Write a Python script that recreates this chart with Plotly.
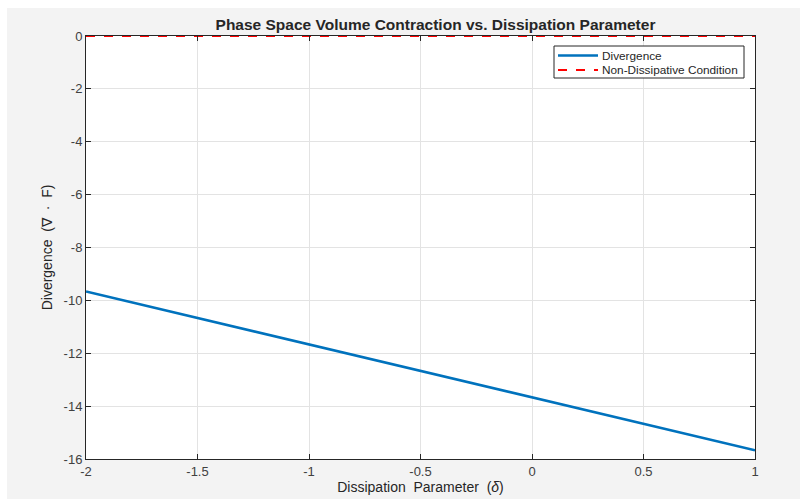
import numpy as np
import plotly.graph_objects as go

delta = [-2.0, -1.5, -1.0, -0.5, 0.0, 0.5, 1.0]
divergence = [-9.667, -10.667, -11.667, -12.667, -13.667, -14.667, -15.667]
zero_line = [0, 0, 0, 0, 0, 0, 0]
x_ticks = [-2, -1.5, -1, -0.5, 0, 0.5, 1]
x_tick_text = ["-2", "-1.5", "-1", "-0.5", "0", "0.5", "1"]
y_ticks = [0, -2, -4, -6, -8, -10, -12, -14, -16]
y_tick_text = ["0", "-2", "-4", "-6", "-8", "-10", "-12", "-14", "-16"]
series_names = ["Divergence", "Non-Dissipative Condition"]
series_colors = ["#0072BD", "#FF0000"]
series_dash = ["solid", "dash"]
series_widths = [2.5, 2]

font = "Liberation Sans, Arial, sans-serif"

# plot-area geometry in pixels (for converting legend placement to paper coords)
W, H = 800, 499
ML, MR, MT, MB = 86, 45, 36, 40
PW, PH = W - ML - MR, H - MT - MB


def px(xp):
    return (xp - ML) / PW


def py(yp):
    return 1 - (yp - MT) / PH


fig = go.Figure()
for name, yv, c, d, w in zip(series_names, [divergence, zero_line], series_colors, series_dash, series_widths):
    fig.add_trace(go.Scatter(x=delta, y=yv, mode="lines", name=name,
                             line=dict(color=c, width=w, dash=d), showlegend=False))

axis_common = dict(showline=True, linecolor="#262626", linewidth=1, mirror="ticks",
                   ticks="inside", ticklen=5, tickcolor="#262626",
                   showgrid=True, gridcolor="#e3e3e3", gridwidth=1, zeroline=False,
                   automargin=False,
                   tickfont=dict(family=font, size=13, color="#404040"))

fig.update_layout(
    width=W, height=H,
    paper_bgcolor="#f3f3f3", plot_bgcolor="white",
    margin=dict(l=ML, r=MR, t=MT, b=MB, autoexpand=False),
    title=dict(text="<b>Phase Space Volume Contraction vs. Dissipation Parameter</b>",
               x=435.5 / W, xanchor="center", y=1 - 25 / H, yanchor="middle",
               font=dict(family=font, size=15.5, color="#262626")),
    xaxis=dict(range=[-2, 1], tickvals=x_ticks, ticktext=x_tick_text,
               title=dict(text="Dissipation  Parameter  (<i>δ</i>)", standoff=1,
                          font=dict(family=font, size=14, color="#262626")),
               **axis_common),
    yaxis=dict(range=[-16, 0], tickvals=y_ticks, ticktext=y_tick_text,
               title=dict(text="Divergence  (∇  ·  F)", standoff=7,
                          font=dict(family=font, size=14, color="#262626")),
               **axis_common),
    showlegend=False,
)

# white outer border strips (top and left) of the figure window
fig.add_shape(type="rect", xref="paper", yref="paper", x0=px(-20), x1=px(820),
              y0=py(8), y1=py(-20), fillcolor="white", line_width=0, layer="below")
fig.add_shape(type="rect", xref="paper", yref="paper", x0=px(-20), x1=px(7),
              y0=py(520), y1=py(-20), fillcolor="white", line_width=0, layer="below")

# legend box
fig.add_shape(type="rect", xref="paper", yref="paper", x0=px(554), x1=px(744),
              y0=py(78), y1=py(46), fillcolor="white", line=dict(color="#262626", width=1))
row_y = [55.5, 70]
for name, c, d, w, ry in zip(series_names, series_colors, series_dash, series_widths, row_y):
    fig.add_shape(type="line", xref="paper", yref="paper", x0=px(558), x1=px(598),
                  y0=py(ry), y1=py(ry), line=dict(color=c, width=w, dash=d))
    fig.add_annotation(text=name, xref="paper", yref="paper", x=px(600), y=py(ry),
                       xanchor="left", yanchor="middle", showarrow=False,
                       font=dict(family=font, size=11.8, color="#262626"))

fig.write_html("out.html")
